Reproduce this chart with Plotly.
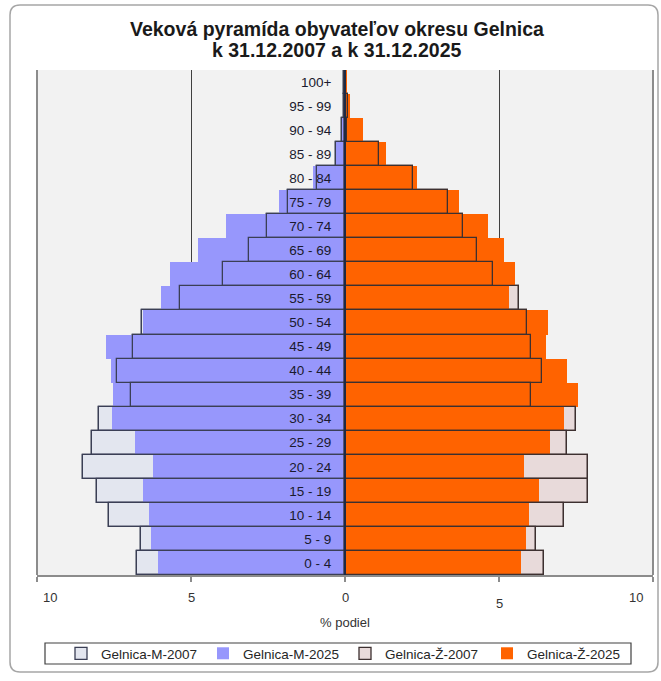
import plotly.graph_objects as go

# Age groups, bottom to top
age_groups = ["0 - 4", "5 - 9", "10 - 14", "15 - 19", "20 - 24", "25 - 29", "30 - 34",
              "35 - 39", "40 - 44", "45 - 49", "50 - 54", "55 - 59", "60 - 64", "65 - 69",
              "70 - 74", "75 - 79", "80 - 84", "85 - 89", "90 - 94", "95 - 99", "100+"]

# % share
m_2007 = [6.76, 6.63, 7.65, 8.06, 8.52, 8.23, 7.99, 6.96, 7.39, 6.87, 6.60, 5.36, 3.97, 3.12,
          2.52, 1.84, 0.92, 0.28, 0.10, 0.04, 0.02]
m_2025 = [6.08, 6.31, 6.38, 6.57, 6.24, 6.82, 7.55, 7.52, 7.61, 7.76, 6.55, 5.97, 5.68, 4.76,
          3.87, 2.13, 1.05, 0.30, 0.12, 0.04, 0.02]
z_2007 = [6.47, 6.19, 7.11, 7.88, 7.90, 7.22, 7.50, 6.05, 6.38, 6.05, 5.92, 5.65, 4.82, 4.30,
          3.84, 3.36, 2.22, 1.11, 0.08, 0.10, 0.03]
z_2025 = [5.71, 5.87, 5.97, 6.31, 5.82, 6.66, 7.12, 7.55, 7.22, 6.53, 6.58, 5.32, 5.52, 5.17,
          4.64, 3.70, 2.35, 1.32, 0.57, 0.15, 0.04]

x_ticks = [-10, -5, 0, 5, 10]
x_tick_labels = ["10", "5", "0", "5", "10"]

title_lines = ["Veková pyramída obyvateľov okresu Gelnica", "k 31.12.2007 a k 31.12.2025"]
names = ["Gelnica-M-2007", "Gelnica-M-2025", "Gelnica-Ž-2007", "Gelnica-Ž-2025"]

FONT = "Arial, Liberation Sans, sans-serif"
C_M07 = "#E3E6EF"
C_M25 = "#9797FC"
C_Z07 = "#E8DADA"
C_Z25 = "#FF6300"
L_M = "#3b3f55"
L_Z = "#3d3030"

neg = lambda v: [-a for a in v]

fig = go.Figure()
fig.add_trace(go.Bar(y=age_groups, x=neg(m_2007), orientation="h", name=names[0],
                     marker=dict(color=C_M07, line=dict(color=L_M, width=1.3))))
fig.add_trace(go.Bar(y=age_groups, x=neg(m_2025), orientation="h", name=names[1],
                     marker=dict(color=C_M25, line=dict(width=0))))
fig.add_trace(go.Bar(y=age_groups, x=z_2007, orientation="h", name=names[2],
                     marker=dict(color=C_Z07, line=dict(color=L_Z, width=1.3))))
fig.add_trace(go.Bar(y=age_groups, x=z_2025, orientation="h", name=names[3],
                     marker=dict(color=C_Z25, line=dict(width=0))))
# 2007 outlines drawn over the 2025 fills
fig.add_trace(go.Bar(y=age_groups, x=neg(m_2007), orientation="h", showlegend=False,
                     marker=dict(color="rgba(0,0,0,0)", line=dict(color=L_M, width=1.3))))
fig.add_trace(go.Bar(y=age_groups, x=z_2007, orientation="h", showlegend=False,
                     marker=dict(color="rgba(0,0,0,0)", line=dict(color=L_Z, width=1.3))))

L, R, T, B = 37, 8, 70, 106
W, H = 661, 681
pw, ph = W - L - R, H - T - B
px = lambda v: (v - L) / pw
py = lambda v: (H - B - v) / ph

# rounded outer frame
x0, x1, y0, y1 = px(10), px(658), py(5), py(672)
rx, ry = 10 / pw, 10 / ph
frame = (f"M {x0+rx},{y0} L {x1-rx},{y0} Q {x1},{y0} {x1},{y0-ry} "
         f"L {x1},{y1+ry} Q {x1},{y1} {x1-rx},{y1} L {x0+rx},{y1} "
         f"Q {x0},{y1} {x0},{y1+ry} L {x0},{y0-ry} Q {x0},{y0} {x0+rx},{y0} Z")

shapes = [
    dict(type="path", xref="paper", yref="paper", path=frame,
         line=dict(color="#A6A6A6", width=1.5), layer="below"),
    dict(type="line", xref="x domain", yref="y domain", x0=0, x1=0, y0=0, y1=1,
         line=dict(color="#8C8C8C", width=2), layer="above"),
    dict(type="line", xref="x domain", yref="y domain", x0=1, x1=1, y0=0, y1=1,
         line=dict(color="#8C8C8C", width=2), layer="above"),
    dict(type="rect", xref="paper", yref="paper", x0=px(45), x1=px(631), y0=py(664), y1=py(643),
         line=dict(color="#404040", width=1.2), fillcolor="white", layer="below"),
]

annotations = [
    dict(text="<b>" + title_lines[0] + "</b>", xref="paper", yref="paper",
         x=px(337), y=py(29.5), xanchor="center", yanchor="middle", showarrow=False,
         font=dict(size=19.5, color="#1a1a1a", family=FONT)),
    dict(text="<b>" + title_lines[1] + "</b>", xref="paper", yref="paper",
         x=px(337), y=py(50), xanchor="center", yanchor="middle", showarrow=False,
         font=dict(size=19.5, color="#1a1a1a", family=FONT)),
]

# x tick labels (placed like the original: edge labels pulled inwards, right "5" lower)
label_xshift = [13, 0, 0, 0, -17]
label_yshift = [0, 0, 0, -6, 0]
for v, t, dx, dy in zip(x_ticks, x_tick_labels, label_xshift, label_yshift):
    annotations.append(dict(text=t, x=v, xref="x", y=py(597), yref="paper",
                            xanchor="center", yanchor="middle", showarrow=False,
                            xshift=dx, yshift=dy,
                            font=dict(size=13, color="#333333", family=FONT)))
annotations.append(dict(text="% podiel", x=0, xref="x", y=py(622), yref="paper",
                        xanchor="center", yanchor="middle", showarrow=False,
                        font=dict(size=13, color="#333333", family=FONT)))

fig.update_layout(
    width=W, height=H,
    margin=dict(l=L, r=R, t=T, b=B, autoexpand=False),
    paper_bgcolor="white", plot_bgcolor="#F2F2F2",
    barmode="overlay", bargap=0,
    font=dict(family=FONT, color="#262626"),
    xaxis=dict(range=[-10, 10], tickvals=x_ticks, showticklabels=False,
               ticks="outside", ticklen=5, tickcolor="#8C8C8C", tickwidth=1.5,
               showline=True, linecolor="#8C8C8C", linewidth=1.5,
               showgrid=True, gridcolor="#404040", gridwidth=1, zeroline=False,
               automargin=False, fixedrange=True),
    yaxis=dict(type="category", categoryorder="array", categoryarray=age_groups,
               range=[-0.5, len(age_groups) - 0.5], anchor="free", position=0.5,
               showline=True, linecolor="#1f2a45", linewidth=2, ticks="",
               ticklabelstandoff=10, showgrid=False, zeroline=False,
               tickfont=dict(size=13.5, color="#1a1a2e"), layer="above traces",
               automargin=False, fixedrange=True),
    legend=dict(orientation="h", x=0.5, xanchor="center", y=py(653.5), yanchor="middle",
                bgcolor="rgba(0,0,0,0)", borderwidth=0, entrywidth=97,
                entrywidthmode="pixels", itemwidth=30,
                font=dict(size=13.5, color="#262626", family=FONT)),
    shapes=shapes,
    annotations=annotations,
)

fig.write_html("out.html", config={"displayModeBar": False},
               post_script="document.body.style.margin='0';document.body.style.overflow='hidden';")
